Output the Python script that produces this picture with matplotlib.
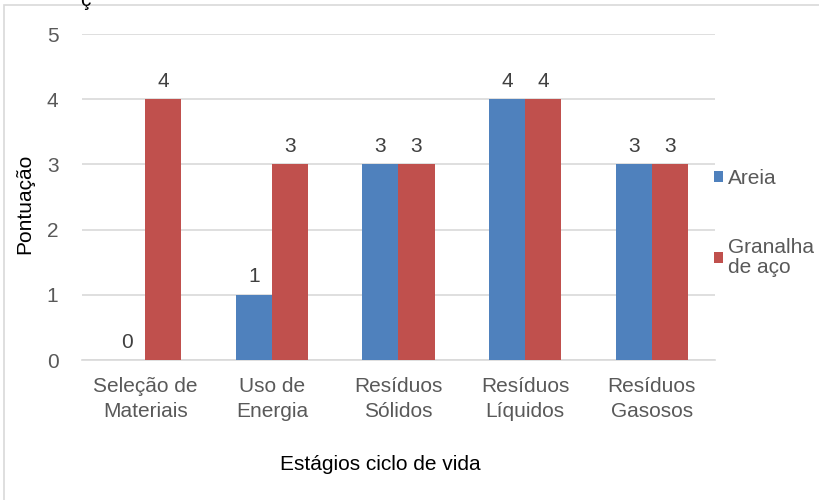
#!/usr/bin/env python3

import matplotlib
matplotlib.use("Agg")
from matplotlib import pyplot as plt
from matplotlib.patches import Rectangle
import numpy as np

categories = ["Seleção de\nMateriais", "Uso de\nEnergia", "Resíduos\nSólidos",
              "Resíduos\nLíquidos", "Resíduos\nGasosos"]
areia = [0, 1, 3, 4, 3]
granalha = [4, 3, 3, 4, 3]
series_names = ["Areia", "Granalha\nde aço"]

BLUE = "#4F81BD"
RED = "#C0504D"
GRID = "#D9D9D9"
TEXT = "#595959"
FS = 15

plt.rcParams["font.family"] = ["Liberation Sans", "DejaVu Sans"]

W, H = 820, 500
fig = plt.figure(figsize=(W / 100, H / 100), dpi=100)
ax = fig.add_axes([82 / W, 1 - 360 / H, (715 - 82) / W, (360 - 34) / H])

x = np.arange(len(categories))
width = 0.285
b1 = ax.bar(x - width / 2, areia, width, color=BLUE, label=series_names[0], zorder=3)
b2 = ax.bar(x + width / 2, granalha, width, color=RED, label=series_names[1], zorder=3)

for bars in (b1, b2):
	ax.bar_label(bars, padding=6, fontsize=FS, color="#404040")

ax.set_xlim(-0.5, len(categories) - 0.5)
ax.set_ylim(0, 5)
ax.set_yticks(range(6))
ax.yaxis.grid(True, color=GRID, linewidth=1.2, zorder=0)
ax.set_xticks(x)
ax.set_xticklabels(categories, fontsize=FS, color=TEXT, linespacing=1.4)
ax.tick_params(axis="y", labelsize=FS, labelcolor=TEXT, length=0, pad=17)
ax.tick_params(axis="x", length=0, pad=12)
for side in ("top", "right", "left"):
	ax.spines[side].set_visible(False)
ax.spines["bottom"].set_color(GRID)
ax.spines["bottom"].set_linewidth(1.2)

fig.text(25 / W, 1 - 204 / H, "Pontuação", fontsize=FS, rotation=90,
	ha="center", va="center", color="black")
fig.text(380 / W, 1 - 465 / H, "Estágios ciclo de vida", fontsize=FS,
	ha="center", va="center", color="black")

leg = ax.legend(loc="center left", bbox_to_anchor=(0.985, 0.42), frameon=False,
	fontsize=FS, handlelength=0.45, handleheight=0.45, handletextpad=0.25,
	labelspacing=2.4, labelcolor=TEXT, borderaxespad=0.0)
for t in leg.get_texts():
	t.set_linespacing(1.1)

# chart frame, runs off the right and bottom of the canvas
fig.patches.append(Rectangle((4 / W, -0.1), 1.1, 1 - 5 / H + 0.1,
	transform=fig.transFigure, fill=False, edgecolor=GRID, linewidth=1.2))
fig.text(85 / W, 1 - 6 / H, "ç", fontsize=FS, ha="center", va="baseline", color="black")

plt.savefig("out.png", dpi=100)
plt.close()
